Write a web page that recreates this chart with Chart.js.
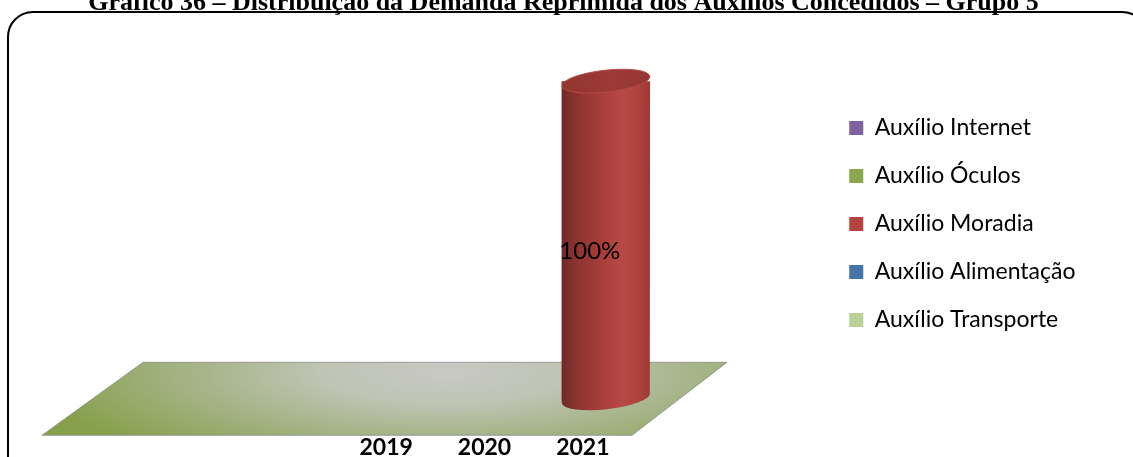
<!DOCTYPE html>
<html><head><meta charset="utf-8">
<script src="https://cdn.jsdelivr.net/npm/chart.js@4/dist/chart.umd.min.js"></script>
<style>
html,body{margin:0;padding:0;background:#fff;overflow:hidden;width:1133px;height:457px;}
#wrap{position:absolute;left:0;top:-12px;width:1133px;height:472px;}
</style></head><body>
<div id="wrap"><canvas id="c" width="1133" height="472"></canvas></div>
<script>
// ---- data ----
const TITLE = 'Gráfico 36 – Distribuição da Demanda Reprimida dos Auxílios Concedidos – Grupo 5';
const categories = ['', '', '', '2019', '2020', '2021'];
const seriesNames = ['Auxílio Internet', 'Auxílio Óculos', 'Auxílio Moradia', 'Auxílio Alimentação', 'Auxílio Transporte'];
const auxInternet    = [null, null, null, 0, 0, 0];
const auxOculos      = [null, null, null, 0, 0, 0];
const auxMoradia     = [null, null, null, 0, 0, 100];
const auxAlimentacao = [null, null, null, 0, 0, 0];
const auxTransporte  = [null, null, null, 0, 0, 0];
const seriesValues = [auxInternet, auxOculos, auxMoradia, auxAlimentacao, auxTransporte];
const seriesColors = ['#7f63a1', '#8ba64c', '#b5433f', '#4574aa', '#bad095'];

// ---- pseudo-3D projection (style constants) ----
const FLOOR_DEPTH = 73, BACK_DX_LEFT = 101, BACK_DX_RIGHT = 95;
const BAR_DX = 23, BAR_DY = 37, ELL_RY = 11, ELL_ROT = -0.11;

function shade(hex, f) {
  const n = parseInt(hex.slice(1), 16);
  let r = (n >> 16) & 255, g = (n >> 8) & 255, b = n & 255;
  if (f < 0) { r *= 1 + f; g *= 1 + f; b *= 1 + f; }
  else { r += (255 - r) * f; g += (255 - g) * f; b += (255 - b) * f; }
  return 'rgb(' + Math.round(r) + ',' + Math.round(g) + ',' + Math.round(b) + ')';
}

const frame3d = {
  id: 'frame3d',
  beforeDraw(chart) {
    const ctx = chart.ctx;
    ctx.save();
    ctx.strokeStyle = '#000';
    ctx.lineWidth = 2;
    ctx.beginPath();
    ctx.roundRect(8, 24, chart.width + 6, chart.height + 6, 25);
    ctx.stroke();
    ctx.restore();
  },
  beforeDatasetsDraw(chart) {
    const ctx = chart.ctx;
    const a = chart.chartArea;
    // floor
    const fl = a.left, fr = a.right, fb = a.bottom, bt = a.bottom - FLOOR_DEPTH;
    ctx.save();
    ctx.beginPath();
    ctx.moveTo(fl, fb);
    ctx.lineTo(fr, fb);
    ctx.lineTo(fr + BACK_DX_RIGHT, bt);
    ctx.lineTo(fl + BACK_DX_LEFT, bt);
    ctx.closePath();
    ctx.save();
    const cxF = (fl + fr) / 2 + 110, cyF = bt + 10;
    ctx.translate(cxF, cyF);
    ctx.scale(1, 0.25);
    const rg = ctx.createRadialGradient(0, 0, 0, 0, 0, 420);
    rg.addColorStop(0, '#c8c9c4');
    rg.addColorStop(0.3, '#bfc4b4');
    rg.addColorStop(0.62, '#a4b385');
    rg.addColorStop(1, '#86a04b');
    ctx.fillStyle = rg;
    ctx.fill();
    ctx.restore();
    ctx.strokeStyle = 'rgba(140,140,140,0.8)';
    ctx.lineWidth = 1;
    ctx.stroke();
    ctx.restore();

    // cylinders
    chart.data.datasets.forEach((ds, i) => {
      const meta = chart.getDatasetMeta(i);
      if (meta.hidden) return;
      meta.data.forEach((bar, j) => {
        const v = ds.data[j];
        if (!v) return;
        const p = bar.getProps(['x', 'y', 'base', 'width'], true);
        const cx = p.x + BAR_DX, rx = p.width / 2;
        const top = p.y - BAR_DY, bot = p.base - BAR_DY;
        const col = ds.backgroundColor;
        ctx.save();
        const g = ctx.createLinearGradient(cx - rx, 0, cx + rx, 0);
        g.addColorStop(0, shade(col, -0.38));
        g.addColorStop(0.18, shade(col, -0.22));
        g.addColorStop(0.45, shade(col, -0.08));
        g.addColorStop(0.68, shade(col, 0.03));
        g.addColorStop(0.85, shade(col, -0.02));
        g.addColorStop(1, shade(col, -0.14));
        ctx.fillStyle = g;
        ctx.beginPath();
        ctx.moveTo(cx - rx, top);
        ctx.lineTo(cx - rx, bot);
        ctx.ellipse(cx, bot, rx, ELL_RY, ELL_ROT, Math.PI, 0, true);
        ctx.lineTo(cx + rx, top);
        ctx.closePath();
        ctx.fill();
        // top cap
        const tg = ctx.createLinearGradient(cx - rx, 0, cx + rx, 0);
        tg.addColorStop(0, shade(col, -0.2));
        tg.addColorStop(0.6, shade(col, -0.14));
        tg.addColorStop(1, shade(col, -0.18));
        ctx.fillStyle = tg;
        ctx.beginPath();
        ctx.ellipse(cx, top, rx, ELL_RY, ELL_ROT, 0, Math.PI * 2);
        ctx.fill();
        ctx.strokeStyle = shade(col, 0.03);
        ctx.lineWidth = 1;
        ctx.stroke();
        // value label
        ctx.fillStyle = '#000';
        ctx.font = '24px Lato';
        ctx.textAlign = 'center';
        ctx.textBaseline = 'middle';
        ctx.fillText(v + '%', cx - 16, (top + bot) / 2 + 12);
        ctx.restore();
      });
    });
    return false;
  }
};

const datasets = seriesNames.map((name, i) => ({
  label: name,
  data: seriesValues[i],
  backgroundColor: seriesColors[i],
  borderWidth: 0
}));

Chart.defaults.color = '#000';
new Chart(document.getElementById('c'), {
  type: 'bar',
  data: { labels: categories, datasets },
  options: {
    responsive: false,
    animation: false,
    devicePixelRatio: 1,
    layout: { padding: { left: 42, right: 48, top: 0, bottom: 0 } },
    datasets: { bar: { categoryPercentage: 0.9, barPercentage: 1 } },
    scales: {
      x: {
        stacked: true,
        grid: { display: false, drawTicks: false },
        border: { display: false },
        ticks: { padding: 2, font: { family: 'Lato', size: 23, weight: 'bold', lineHeight: 0.9 }, color: '#000', maxRotation: 0, autoSkip: false }
      },
      y: {
        stacked: true,
        position: 'right',
        min: 0, max: 100,
        grid: { display: false, drawTicks: false },
        border: { display: false },
        ticks: { display: false },
        afterFit(s) { s.width = Math.max(0, s.chart.width - 48 - s.chart.legend.width - 632); }
      }
    },
    plugins: {
      title: {
        display: true, text: TITLE, color: '#000',
        font: { family: 'Liberation Serif', size: 26, weight: 'bold' },
        padding: { top: 0, bottom: 99 }
      },
      legend: {
        position: 'right', align: 'center',
        labels: { boxWidth: 14, boxHeight: 14, padding: 25, color: '#000', font: { family: 'Lato', size: 23 } }
      },
      tooltip: { enabled: false }
    }
  },
  plugins: [frame3d]
});
</script>
</body></html>
